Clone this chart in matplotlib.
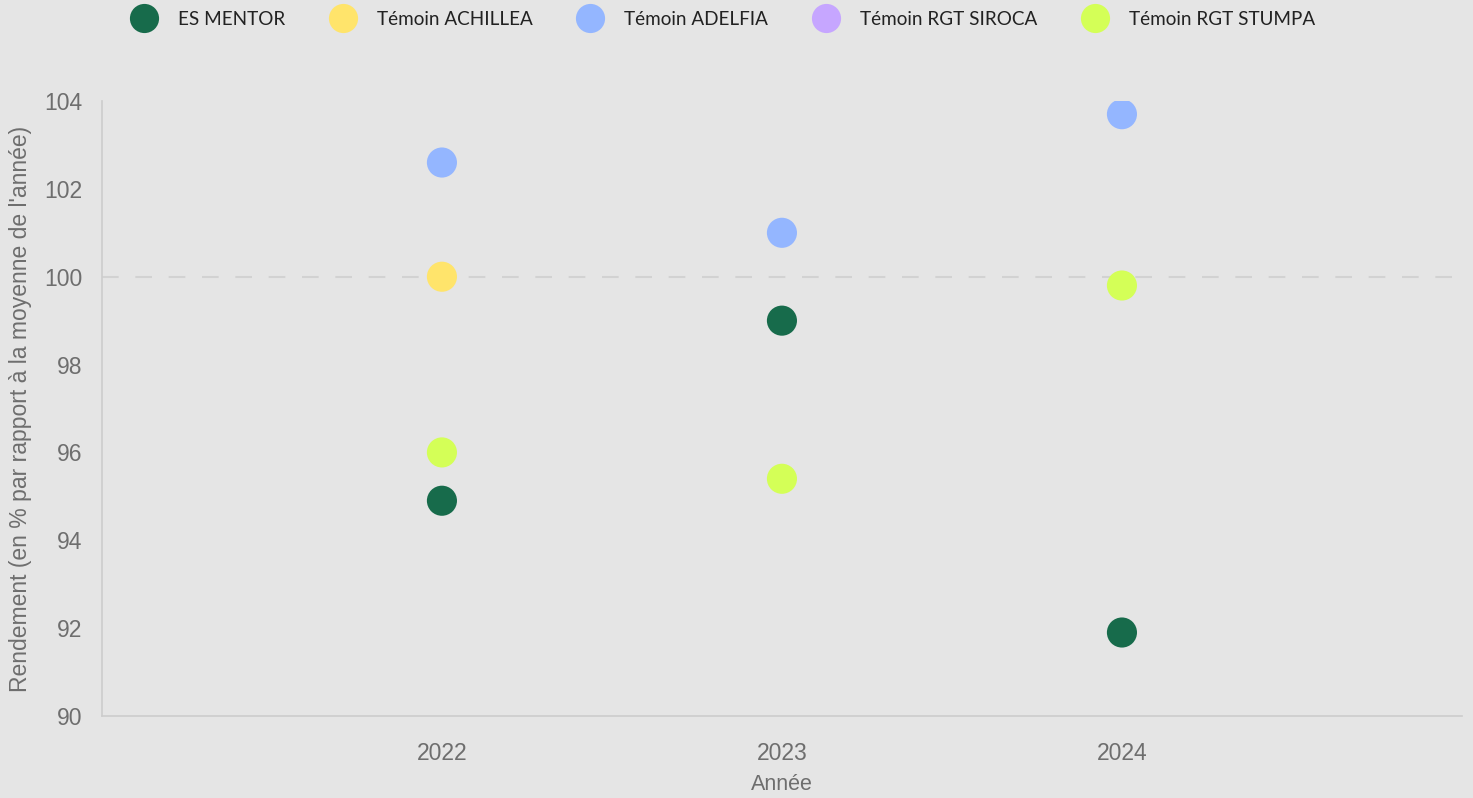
import matplotlib.pyplot as plt
from matplotlib.lines import Line2D

# données
annees = [2022, 2023, 2024]
series = ['ES MENTOR', 'Témoin ACHILLEA', 'Témoin ADELFIA', 'Témoin RGT SIROCA', 'Témoin RGT STUMPA']
couleurs = ['#176b4b', '#ffe46b', '#94b6ff', '#c6a6ff', '#d4ff57']

mentor = [94.9, 99.0, 91.9]
achillea = [100.0, None, None]
adelfia = [102.6, 101.0, 103.7]
siroca = [None, None, None]
stumpa = [96.0, 95.4, 99.8]

valeurs = [mentor, achillea, adelfia, siroca, stumpa]

bg = '#e5e5e5'
gris = '#6e6e6e'

fig = plt.figure(figsize=(14.73, 7.98), dpi=100, facecolor=bg)
ax = fig.add_axes([0.0692, 0.1028, 0.9233, 0.7706], facecolor=bg)

for nom, col, vals in zip(series, couleurs, valeurs):
    xs = [a for a, v in zip(annees, vals) if v is not None]
    ys = [v for v in vals if v is not None]
    ax.scatter(xs, ys, s=470, color=col, edgecolors='none', zorder=3, label=nom)

# ligne de référence à 100
ax.axhline(100, color='#d2d2d2', lw=1.5, ls=(0, (8, 8)), zorder=1)

ax.set_xlim(2021, 2025)
ax.set_ylim(90, 104)
ax.set_xticks(annees)
ax.set_xticklabels([str(a) for a in annees])
ax.set_yticks(range(90, 105, 2))

for s in ['top', 'right']:
    ax.spines[s].set_visible(False)
for s in ['left', 'bottom']:
    ax.spines[s].set_color('#cccccc')
    ax.spines[s].set_linewidth(1.2)

ax.tick_params(length=0, labelsize=16.5, labelcolor=gris, pad=14)
for lab in ax.get_xticklabels() + ax.get_yticklabels():
    lab.set_family('Liberation Sans')
ax.tick_params(axis='x', pad=19)

ax.set_xlabel('Année', fontsize=15.5, color=gris, family='Liberation Sans', labelpad=6)
ax.set_ylabel("Rendement (en % par rapport à la moyenne de l'année)", fontsize=16.5,
              color=gris, family='Liberation Sans', labelpad=9)

handles = [Line2D([], [], ls='none', marker='o', markersize=21, color=c, markeredgewidth=0)
           for c in couleurs]
fig.legend(handles, series, loc='center', bbox_to_anchor=(0.491, 0.976), ncol=5,
           frameon=False, prop={'family': 'Lato', 'size': 13.6},
           labelcolor='#222222',
           handlelength=1.3, handletextpad=1.15, columnspacing=2.4, borderpad=0)

fig.savefig('out.png', dpi=100, facecolor=bg)
